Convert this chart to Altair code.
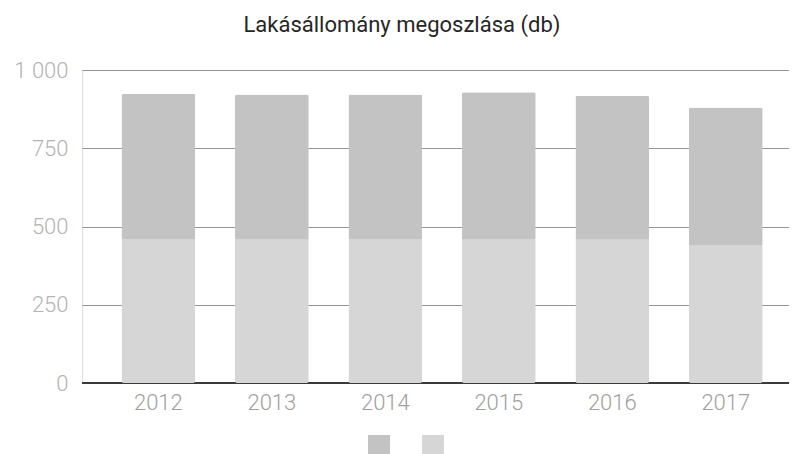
import altair as alt
import pandas as pd

years = ["2012", "2013", "2014", "2015", "2016", "2017"]
series_names = ["Sorozat 1", "Sorozat 2"]
lower_vals = [460, 460, 460, 460, 458, 441]   # light segment (bottom)
upper_vals = [464, 462, 462, 469, 460, 439]   # dark segment (top)
y_ticks = [0, 250, 500, 750, 1000]
title_text = "Lakásállomány megoszlása (db)"

rows = []
for i, y in enumerate(years):
    rows.append({"ev": y, "sorozat": series_names[0], "db": upper_vals[i], "rend": 2})
    rows.append({"ev": y, "sorozat": series_names[1], "db": lower_vals[i], "rend": 1})
df = pd.DataFrame(rows)

font = "Roboto"

yscale = alt.Scale(domain=[0, 1000], nice=False)

base = alt.Chart(df)

zero_rule = base.mark_rule(color="#3a3a3a", strokeWidth=2).encode(
    y=alt.datum(0, scale=yscale, type="quantitative")
)

bars = base.mark_bar(cornerRadius=2).encode(
    x=alt.X("ev:N",
            scale=alt.Scale(paddingInner=0.35, paddingOuter=0.29, align=0.6),
            axis=alt.Axis(title=None, labelAngle=0, domain=False, ticks=False,
                          labelPadding=9, labelFont=font, labelFontSize=22,
                          labelFontWeight=300, labelColor="#a0a0a0")),
    y=alt.Y("db:Q", stack="zero", scale=yscale,
            axis=alt.Axis(title=None, values=y_ticks, domain=False, ticks=False,
                          labelPadding=14, labelFont=font, labelFontSize=22,
                          labelFontWeight=300, labelColor="#b3b3b3",
                          labelExpr="replace(format(datum.value, ',d'), ',', ' ')",
                          grid=True, gridColor="#959595", gridWidth=1)),
    color=alt.Color("sorozat:N",
                    scale=alt.Scale(domain=series_names, range=["#c3c3c3", "#d6d6d6"]),
                    legend=alt.Legend(orient="none", legendX=286, legendY=365,
                                      direction="horizontal", title=None,
                                      symbolType="square", symbolSize=484,
                                      symbolStrokeWidth=0, labelExpr="''",
                                      labelOffset=0, columnPadding=32)),
    order=alt.Order("rend:Q", sort="ascending"),
)

chart = alt.layer(zero_rule, bars).properties(
    width=707, height=313,
    title=alt.TitleParams(title_text, font=font, fontSize=22, fontWeight="normal",
                          color="#262626", anchor="middle", frame="bounds", offset=22),
    autosize=alt.AutoSizeParams(type="none"),
    padding={"left": 74, "top": 62, "right": 0, "bottom": 76},
).configure_view(stroke=None).configure(background="white")

chart.save("out.html", embed_options={"renderer": "svg", "actions": False})
